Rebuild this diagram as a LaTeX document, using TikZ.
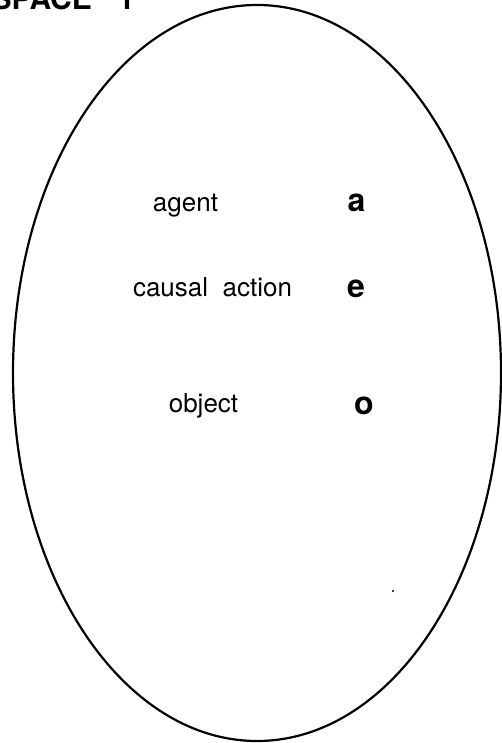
\documentclass[tikz,border=0pt]{standalone}
\usepackage{fontspec}
\setmainfont{TeX Gyre Heros}
\usepackage{tikz}
\usetikzlibrary{calc,arrows,shapes}
\tikzset{>=latex}
\tikzset{role/.style = {anchor = base, font = \fontsize{26}{30}\selectfont},
         var/.style = {anchor = base, font = \fontsize{32}{36}\selectfont\bfseries}}

\begin{document}
\begin{tikzpicture}[x=1pt, y=1pt]
\useasboundingbox (0, 0) rectangle (502, 743);
\draw[line width = 2.2] (257, 370) ellipse [x radius = 244, y radius = 368];
\node[anchor = base west, font = \fontsize{30}{34}\selectfont\bfseries] (title) at (-12, 733) {SPACE\hspace{26pt}1};
\node[role] (agent) at (185.5, 531) {agent};
\node[var] (a) at (356.5, 531) {a};
\node[role] (action) at (212.5, 446) {causal\ \ action};
\node[var] (e) at (356, 445) {e};
\node[role] (object) at (203.5, 330) {object};
\node[var] (o) at (364, 328) {o};
\node[circle, fill, inner sep = 0, minimum size = 2.4] (dot) at (393, 152) {};
\end{tikzpicture}
\end{document}
